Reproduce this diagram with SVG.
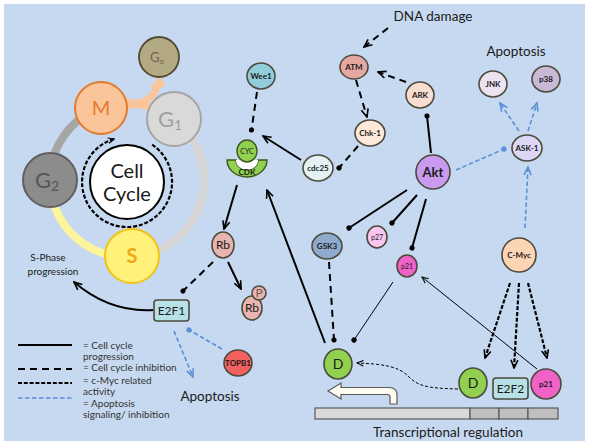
<svg xmlns="http://www.w3.org/2000/svg" width="589" height="445" viewBox="0 0 589 445">
<style>
text{font-family:Lato,"Liberation Sans",sans-serif;fill:#1a1a1a}
.nd{stroke:#4d4a3c;stroke-width:1.6}
.sm{font-size:8px;font-weight:bold;text-anchor:middle}
.md{font-size:12px;text-anchor:middle}
.lg{font-size:10px;fill:#333}
.solid{fill:none;stroke:#000;stroke-width:2}
.thin{fill:none;stroke:#000;stroke-width:1}
.dash{fill:none;stroke:#000;stroke-width:2;stroke-dasharray:7 5}
.myc{fill:none;stroke:#000;stroke-width:2.2;stroke-dasharray:4 1.8}
.blue{fill:none;stroke:#5b8fd8;stroke-width:1.6;stroke-dasharray:4.5 2.5}
</style>
<defs>
<marker id="ah" viewBox="0 0 10 10" refX="9" refY="5" markerWidth="10" markerHeight="10" markerUnits="userSpaceOnUse" orient="auto"><path d="M1,1.5 L9,5 L1,8.5" fill="none" stroke="#000" stroke-width="1.6" stroke-dasharray="none"/></marker>
<marker id="ahs" viewBox="0 0 10 10" refX="9" refY="5" markerWidth="8" markerHeight="8" markerUnits="userSpaceOnUse" orient="auto"><path d="M1,1.5 L9,5 L1,8.5" fill="none" stroke="#000" stroke-width="1.3" stroke-dasharray="none"/></marker>
<marker id="ahb" viewBox="0 0 10 10" refX="9" refY="5" markerWidth="10" markerHeight="10" markerUnits="userSpaceOnUse" orient="auto"><path d="M1,1.5 L9,5 L1,8.5" fill="none" stroke="#5b8fd8" stroke-width="1.6" stroke-dasharray="none"/></marker>
<marker id="dot" viewBox="0 0 6 6" refX="3" refY="3" markerWidth="6" markerHeight="6" markerUnits="userSpaceOnUse" orient="auto"><circle cx="3" cy="3" r="2.6" fill="#000"/></marker>
<marker id="dotb" viewBox="0 0 6 6" refX="3" refY="3" markerWidth="6" markerHeight="6" markerUnits="userSpaceOnUse" orient="auto"><circle cx="3" cy="3" r="2.6" fill="#5b8fd8"/></marker>
</defs>
<rect x="0" y="0" width="589" height="445" fill="#ffffff"/>
<rect x="4" y="4" width="581" height="437" fill="#c6d9f0"/>

<!-- cell cycle ring -->
<g id="ring" fill="none" stroke-width="8">
<path d="M50,180 A77,77 0 0 1 100.7,107.6" stroke="#a6a6a6"/>
<path d="M100.7,107.6 A77,77 0 0 1 174.4,119.3" stroke="#fbc59b"/>
<path d="M174.4,119.3 A77,77 0 0 1 132.4,256.8" stroke="#d6d6d6"/>
<path d="M132.4,256.8 A77,77 0 0 1 50,180" stroke="#fdf59b"/>
<path d="M126,106 Q153,103 157,86" stroke="#fbc59b" stroke-width="7"/>
<polygon points="150,88 166,87 160,76" fill="#fbc59b" stroke="none"/>
</g>

<g id="connectors">
<path d="M152.2,144.7 A45,45 0 1 1 114.5,138.8" class="myc" stroke-width="1.6" stroke-dasharray="3.5 2" marker-end="url(#ahs)"/>
<path d="M153,310 C120,312 95,300 74,282" class="solid" marker-end="url(#ah)"/>
<path d="M257,92 L251.5,130" class="dash" marker-end="url(#dot)"/>
<path d="M301,160 L263,136" class="solid" marker-end="url(#ah)"/>
<path d="M237,185 L224,229" class="solid" marker-end="url(#ah)"/>
<path d="M325,343 L267,190" class="solid" marker-end="url(#ah)"/>
<path d="M228,262 L241,289" class="solid" marker-end="url(#ah)"/>
<path d="M213,262 L183,291" class="dash" marker-end="url(#dot)"/>
<path d="M388,28 L364,47" class="dash" stroke-dasharray="5 4" marker-end="url(#ah)"/>
<path d="M406,82 L378,72" class="dash" stroke-dasharray="5 4" marker-end="url(#ah)"/>
<path d="M356,80 L367,117" class="dash" stroke-dasharray="5 4" marker-end="url(#ah)"/>
<path d="M358,146 L339,168" class="dash" stroke-dasharray="5 4" marker-end="url(#dot)"/>
<path d="M431,153 L427,116" class="solid" marker-end="url(#dot)"/>
<path d="M407,190 L349,228" class="solid" marker-end="url(#dot)"/>
<path d="M417,195 L392,223" class="solid" marker-end="url(#dot)"/>
<path d="M426,199 L412,248" class="solid" marker-end="url(#dot)"/>
<path d="M329,262 L334,340" class="dash" marker-end="url(#dot)"/>
<path d="M393,282 L354,340" class="thin" marker-end="url(#dot)"/>
<path d="M537,369 L422,277" class="thin" marker-end="url(#ahs)"/>
<path d="M458,389 C425,388 418,386 408,376 C398,366 382,364 357,363" class="thin" stroke-dasharray="3 2" marker-end="url(#ahs)"/>
<path d="M510,283 L485,358" class="myc" marker-end="url(#ah)"/>
<path d="M519,283 L514,368" class="myc" marker-end="url(#ah)"/>
<path d="M528,283 L547,358" class="myc" marker-end="url(#ah)"/>
<path d="M456,170 L504,149" class="blue" marker-end="url(#dotb)"/>
<path d="M519,131 L500,103" class="blue" marker-end="url(#ahb)"/>
<path d="M528,131 L537,103" class="blue" marker-end="url(#ahb)"/>
<path d="M525,228 L528,167" class="blue" marker-end="url(#ahb)"/>
<path d="M174,331 L193,377" class="blue" marker-end="url(#ahb)"/>
<path d="M222,349 L189,330" class="blue" marker-end="url(#dotb)"/>
</g>

<g id="n-cellcycle"><circle cx="127" cy="182" r="37" fill="#fff" stroke="#000" stroke-width="2"/>
<text x="127" y="178" font-size="20" text-anchor="middle">Cell</text><text x="127" y="201" font-size="20" text-anchor="middle">Cycle</text></g>
<g id="n-g0"><circle cx="159" cy="57" r="20" fill="#b3aa84" stroke="#4f4a30" stroke-width="1.8"/>
<text x="157" y="62" font-size="13" text-anchor="middle" style="fill:#6b6450">G<tspan font-size="8" dy="2">o</tspan></text></g>
<g id="n-m"><circle cx="101" cy="108" r="26" fill="#fbc59b" stroke="#e37a2e" stroke-width="2"/>
<text x="101" y="115" font-size="20" text-anchor="middle" style="fill:#e37a2e">M</text></g>
<g id="n-g1"><circle cx="174" cy="119" r="27" fill="#d9d9d9" stroke="#a5a5a5" stroke-width="2"/>
<text x="170" y="127" font-size="22" text-anchor="middle" style="fill:#a0a0a0">G<tspan font-size="14" dy="3">1</tspan></text></g>
<g id="n-g2"><circle cx="50" cy="180" r="27" fill="#8c8c8c" stroke="#5f5f5f" stroke-width="2"/>
<text x="47" y="188" font-size="22" text-anchor="middle" style="fill:#555">G<tspan font-size="14" dy="3">2</tspan></text></g>
<g id="n-s"><circle cx="132" cy="256" r="27" fill="#fff17a" stroke="#f3c21a" stroke-width="2"/>
<text x="132" y="263" font-size="20" font-weight="bold" text-anchor="middle" style="fill:#f0a818">S</text></g>

<g id="t-sphase"><text x="48" y="261" font-size="10" text-anchor="middle">S-Phase</text><text x="53" y="275" font-size="10" text-anchor="middle">progression</text></g>

<g id="n-cdk">
<path d="M227,160 A20,17 0 0 0 267,160 L258,160 A11,10 0 0 1 236,160 Z" fill="#92d050" stroke="#3d5a1e" stroke-width="1.4"/>
<path d="M236,160 A11,10 0 0 0 258,160 Z" fill="#fff"/>
<ellipse cx="247" cy="151" rx="10" ry="11" fill="#92d050" stroke="#3d5a1e" stroke-width="1.4"/>
<text x="247" y="154" font-size="7" text-anchor="middle">CYC</text>
<text x="247" y="175" font-size="8" font-weight="bold" text-anchor="middle">CDK</text>
</g>
<g id="n-wee1"><ellipse cx="261" cy="76" rx="14" ry="13" fill="#92cddc" class="nd"/><text x="261" y="79" class="sm">Wee1</text></g>
<g id="n-cdc25"><ellipse cx="318" cy="168" rx="15" ry="13" fill="#e3f1f5" class="nd"/><text x="318" y="171" class="sm" font-weight="normal">cdc25</text></g>
<g id="n-atm"><ellipse cx="354" cy="67" rx="14" ry="12" fill="#e6a7a0" class="nd"/><text x="354" y="70" class="sm">ATM</text></g>
<g id="n-ark"><ellipse cx="420" cy="95" rx="14" ry="13" fill="#f8ddd0" class="nd"/><text x="420" y="98" class="sm">ARK</text></g>
<g id="n-chk1"><ellipse cx="370" cy="133" rx="15" ry="13" fill="#fde9d9" class="nd"/><text x="370" y="136" class="sm">Chk-1</text></g>
<g id="t-dna"><text x="433" y="21" font-size="13.5" text-anchor="middle">DNA damage</text></g>
<g id="n-akt"><circle cx="433" cy="172" r="17" fill="#c89af0" class="nd"/><text x="433" y="177" font-size="13" font-weight="bold" text-anchor="middle">Akt</text></g>
<g id="t-apop1"><text x="516" y="56" font-size="13.5" text-anchor="middle">Apoptosis</text></g>
<g id="n-jnk"><ellipse cx="493" cy="84" rx="14" ry="13" fill="#ebe4ef" class="nd"/><text x="493" y="87" class="sm">JNK</text></g>
<g id="n-p38"><ellipse cx="546" cy="79" rx="14" ry="13" fill="#c9b8d6" class="nd"/><text x="546" y="82" class="sm">p38</text></g>
<g id="n-ask1"><ellipse cx="527" cy="148" rx="15" ry="13" fill="#dcd6f7" class="nd"/><text x="527" y="151" class="sm" font-size="7">ASK-1</text></g>
<g id="n-cmyc"><circle cx="519" cy="255" r="17" fill="#fcd5b4" class="nd"/><text x="519" y="258" class="sm">C-Myc</text></g>
<g id="n-gsk3"><ellipse cx="327" cy="246" rx="15" ry="13" fill="#8eaacc" class="nd"/><text x="327" y="249" class="sm">GSK3</text></g>
<g id="n-p27"><ellipse cx="377" cy="237" rx="10" ry="11" fill="#fbc6f0" class="nd"/><text x="377" y="240" font-size="7" text-anchor="middle">p27</text></g>
<g id="n-p21a"><ellipse cx="407" cy="266" rx="10" ry="11" fill="#f062c8" class="nd"/><text x="407" y="269" font-size="7" text-anchor="middle">p21</text></g>
<g id="n-d1"><ellipse cx="338" cy="364" rx="14" ry="15" fill="#92d050" class="nd"/><text x="338" y="369" font-size="14" text-anchor="middle">D</text></g>
<g id="n-d2"><ellipse cx="473" cy="383" rx="14" ry="15" fill="#92d050" class="nd"/><text x="473" y="388" font-size="14" text-anchor="middle">D</text></g>
<g id="n-e2f2"><rect x="493" y="378" width="35" height="21" rx="3" fill="#b7e1e6" class="nd"/><text x="510.5" y="393" class="md">E2F2</text></g>
<g id="n-p21b"><circle cx="546" cy="384" r="15" fill="#f062c8" class="nd"/><text x="546" y="387" class="sm" font-size="8.5">p21</text></g>
<g id="n-rb"><ellipse cx="223" cy="245" rx="11" ry="13" fill="#e8b4b0" class="nd"/><text x="223" y="249" class="md">Rb</text></g>
<g id="n-rbp"><ellipse cx="252" cy="308" rx="10" ry="12" fill="#e8b4b0" class="nd"/><circle cx="259" cy="293" r="7" fill="#e8b4b0" class="nd"/><text x="252" y="312" class="md" font-size="11">Rb</text><text x="259" y="297" class="md" font-size="10" style="fill:#6b5a50">P</text></g>
<g id="n-e2f1"><rect x="154" y="300" width="35" height="21" rx="3" fill="#b7e1e6" class="nd"/><text x="171.5" y="315" class="md">E2F1</text></g>
<g id="n-topb1"><ellipse cx="238" cy="363" rx="14" ry="13" fill="#f26060" class="nd"/><text x="238" y="365.5" class="sm" font-size="6">TOPB1</text></g>
<g id="t-apop2"><text x="210" y="401" font-size="13.5" text-anchor="middle">Apoptosis</text></g>

<g id="promoter" stroke="#595959" stroke-width="1.2">
<rect x="315" y="408" width="155" height="11" fill="#d9d9d9"/>
<rect x="470" y="408" width="29" height="11" fill="#bfbfbf"/>
<rect x="499" y="408" width="29" height="11" fill="#bfbfbf"/>
<rect x="528" y="408" width="30" height="11" fill="#bfbfbf"/>
<path d="M328,391 L341,383 L341,387.5 L389,387.5 Q397,387.5 397,395 L397,404 L390,404 L390,397 Q390,394.5 387.5,394.5 L341,394.5 L341,399 Z" fill="#fffdf2"/>
</g>
<g id="t-trans"><text x="448" y="437" font-size="13.5" text-anchor="middle">Transcriptional regulation</text></g>

<g id="legend">
<line x1="18" y1="345" x2="72" y2="345" class="solid"/>
<line x1="18" y1="369" x2="72" y2="369" class="dash"/>
<line x1="18" y1="383" x2="72" y2="383" class="myc"/>
<line x1="18" y1="398" x2="72" y2="398" class="blue"/>
<text x="83" y="348.5" class="lg">= Cell cycle</text>
<text x="83" y="360" class="lg">progression</text>
<text x="83" y="371" class="lg">= Cell cycle inhibition</text>
<text x="83" y="383.5" class="lg">= c-Myc related</text>
<text x="83" y="395" class="lg">activity</text>
<text x="83" y="407" class="lg">= Apoptosis</text>
<text x="83" y="418" class="lg">signaling/ inhibition</text>
</g>
</svg>
